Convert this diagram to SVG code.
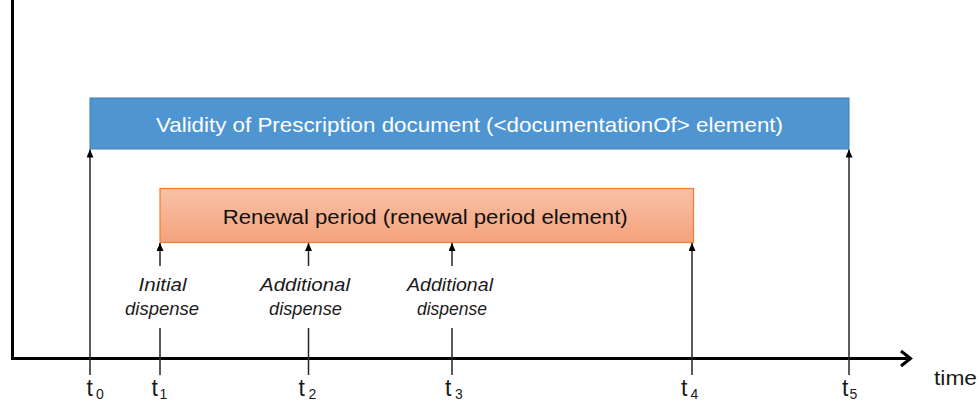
<svg xmlns="http://www.w3.org/2000/svg" width="979" height="402" viewBox="0 0 979 402">
  <style>
    text { font-family: "Liberation Sans", Arial, sans-serif; }
    .tick { stroke: #262626; stroke-width: 1.5; fill: none; }
    .axis { stroke: #000; stroke-width: 3; fill: none; }
    .lbl { font-size: 19px; font-style: italic; fill: #1a1a1a; text-anchor: middle; }
    .t { font-size: 23px; fill: #1a1a1a; }
    .sub { font-size: 14px; }
  </style>
  <defs>
    <linearGradient id="og" x1="0" y1="0" x2="0" y2="1">
      <stop offset="0" stop-color="#f8c1a6"/>
      <stop offset="1" stop-color="#f4a27c"/>
    </linearGradient>
    <marker id="ah" markerUnits="userSpaceOnUse" markerWidth="8" markerHeight="7" viewBox="0 0 8 7" refX="8" refY="3.5" orient="auto">
      <path d="M0,0 L8,3.5 L0,7 z" fill="#000"/>
    </marker>
  </defs>

  <g id="axes">
    <line class="axis" x1="12.5" y1="0" x2="12.5" y2="358.5"/>
    <line class="axis" x1="11" y1="358.5" x2="910" y2="358.5"/>
    <polyline class="axis" points="901,351 910.5,358.5 901,366"/>
    <text x="934" y="385" font-size="21" textLength="43" lengthAdjust="spacingAndGlyphs" fill="#1a1a1a">time</text>
  </g>

  <g id="validity">
    <rect x="90" y="98" width="759" height="51" fill="#4e95d1" stroke="#3f7cb4" stroke-width="1"/>
    <text x="469.5" y="132" font-size="21" fill="#ffffff" text-anchor="middle" textLength="627" lengthAdjust="spacingAndGlyphs">Validity of Prescription document (&lt;documentationOf&gt; element)</text>
  </g>

  <g id="renewal">
    <rect x="160" y="188.5" width="533.5" height="54" fill="url(#og)" stroke="#ed7d31" stroke-width="1.2"/>
    <text x="425.2" y="223.5" font-size="20" fill="#111" text-anchor="middle" textLength="405" lengthAdjust="spacingAndGlyphs">Renewal period (renewal period element)</text>
  </g>

  <g id="connectors">
    <line class="tick" x1="90" y1="375" x2="90" y2="149.5" marker-end="url(#ah)"/>
    <line class="tick" x1="160" y1="266" x2="160" y2="243" marker-end="url(#ah)"/>
    <line class="tick" x1="160" y1="328" x2="160" y2="375"/>
    <line class="tick" x1="308.5" y1="266" x2="308.5" y2="243" marker-end="url(#ah)"/>
    <line class="tick" x1="308.5" y1="328" x2="308.5" y2="375"/>
    <line class="tick" x1="452" y1="266" x2="452" y2="243" marker-end="url(#ah)"/>
    <line class="tick" x1="452" y1="328" x2="452" y2="375"/>
    <line class="tick" x1="692" y1="375" x2="692" y2="243" marker-end="url(#ah)"/>
    <line class="tick" x1="849" y1="375" x2="849" y2="149.5" marker-end="url(#ah)"/>
  </g>

  <g id="dispense1">
    <text class="lbl" x="162.5" y="291" textLength="48" lengthAdjust="spacingAndGlyphs">Initial</text>
    <text class="lbl" x="162" y="315" textLength="74" lengthAdjust="spacingAndGlyphs">dispense</text>
  </g>
  <g id="dispense2">
    <text class="lbl" x="305" y="291" textLength="90" lengthAdjust="spacingAndGlyphs">Additional</text>
    <text class="lbl" x="305.5" y="315" textLength="73" lengthAdjust="spacingAndGlyphs">dispense</text>
  </g>
  <g id="dispense3">
    <text class="lbl" x="450" y="291" textLength="86" lengthAdjust="spacingAndGlyphs">Additional</text>
    <text class="lbl" x="452" y="315" textLength="70" lengthAdjust="spacingAndGlyphs">dispense</text>
  </g>

  <g id="tlabels">
    <text class="t" y="395.5"><tspan x="86.5">t</tspan><tspan class="sub" x="96" y="399">0</tspan></text>
    <text class="t" y="395.5"><tspan x="151.5">t</tspan><tspan class="sub" x="159.5" y="399">1</tspan></text>
    <text class="t" y="395.5"><tspan x="298.5">t</tspan><tspan class="sub" x="308.5" y="399">2</tspan></text>
    <text class="t" y="395.5"><tspan x="445">t</tspan><tspan class="sub" x="455" y="399">3</tspan></text>
    <text class="t" y="395.5"><tspan x="681">t</tspan><tspan class="sub" x="690.5" y="399">4</tspan></text>
    <text class="t" y="395.5"><tspan x="842">t</tspan><tspan class="sub" x="849.5" y="399">5</tspan></text>
  </g>
</svg>
